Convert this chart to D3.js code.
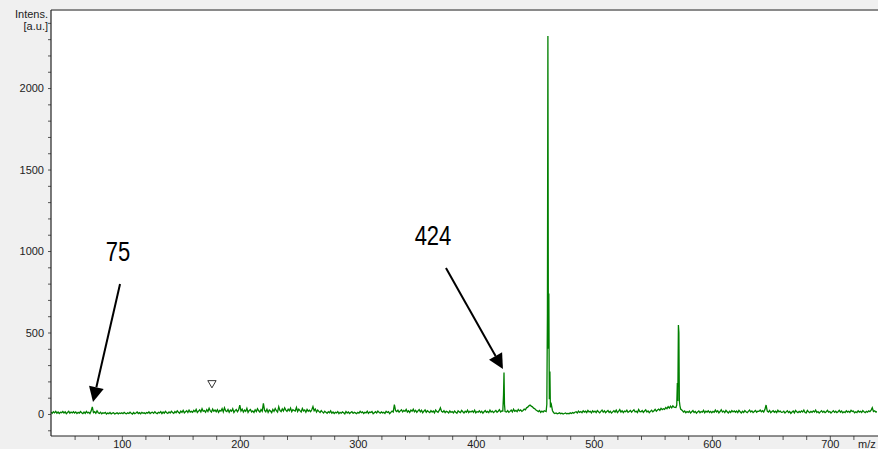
<!DOCTYPE html>
<html><head><meta charset="utf-8">
<script src="https://cdn.jsdelivr.net/npm/d3@7"></script>
<style>html,body{margin:0;padding:0;background:#f0f0f0;} svg{display:block;}</style>
</head><body><svg id="c" width="878" height="449"></svg>
<script>
// ---- data ----
const noiseStartMz = 40, noiseStepMz = 1;
const noiseIntens = [
 10,4,14,7,16,5,12,3,11,8,15,6,13,2,9,17,5,12,7,14,
 6,13,3,10,5,15,8,2,12,4,16,7,11,3,18,44,9,14,5,20,
 8,3,11,1,7,4,10,0,6,2,9,1,5,8,0,4,7,1,6,3,
 8,2,10,4,1,7,3,11,5,0,9,2,6,12,3,8,1,10,4,7,
 2,9,5,13,3,8,11,4,14,6,2,10,7,15,3,12,5,16,8,4,
 13,6,17,9,4,15,8,19,11,5,18,10,22,7,14,20,9,24,12,16,
 10,22,14,28,9,18,25,12,32,16,21,11,27,15,35,19,12,30,17,24,
 14,26,10,22,18,33,13,38,20,15,28,11,24,17,32,9,21,27,14,25,
 55,18,30,12,24,16,35,10,22,28,13,19,9,26,15,32,20,12,27,17,
 65,22,14,30,10,24,18,8,28,16,34,20,12,45,22,15,31,19,38,24,
 16,29,20,36,14,27,22,18,40,15,30,21,13,34,19,25,11,28,17,23,
 14,26,45,20,30,12,24,16,9,21,13,6,17,10,4,14,8,19,5,12,
 3,11,7,15,2,10,5,13,8,1,16,6,12,3,9,14,4,11,7,2,
 10,5,16,8,13,3,11,7,17,4,12,9,15,2,8,14,6,18,10,5,
 13,7,11,4,16,9,14,2,10,18,12,58,21,15,24,11,19,26,13,22,
 16,28,12,20,9,24,17,30,14,22,10,19,27,13,23,8,18,25,11,20,
 14,9,21,12,18,7,24,15,10,22,38,16,11,20,8,17,13,6,19,10,
 15,7,18,11,5,20,13,9,22,14,6,17,11,24,8,16,12,19,10,23,
 7,15,11,20,9,17,5,14,21,10,16,8,24,12,18,9,15,22,11,17,
 26,13,19,20,15,18,12,21,10,16,24,13,30,17,22,14,28,19,25,16,
 22,30,26,38,42,50,55,48,44,36,32,25,20,15,22,10,18,12,20,16,
 25,30,28,22,26,20,8,3,6,1,4,7,2,5,0,3,6,1,4,2,
 7,3,9,5,11,14,6,18,10,15,8,20,12,17,9,22,13,16,7,19,
 12,18,9,21,14,7,16,24,11,19,8,15,22,10,17,6,13,20,12,24,
 9,16,27,12,20,8,18,14,23,10,15,22,11,19,26,13,17,9,28,15,
 14,21,10,18,25,12,19,8,16,23,13,20,29,17,24,30,22,35,27,32,
 28,40,33,45,36,48,38,50,42,46,45,50,40,35,30,22,12,18,8,15,
 10,18,6,14,21,9,16,5,13,19,8,15,11,22,7,17,12,20,9,16,
 8,16,11,24,13,20,7,15,26,12,18,9,22,14,6,17,10,21,13,19,
 11,18,9,22,14,6,17,10,21,13,8,16,24,12,19,9,15,22,11,17,
 16,24,14,20,12,27,55,18,12,22,8,15,20,11,17,9,23,13,18,10,
 11,17,6,13,20,9,15,4,12,18,7,22,13,8,16,10,19,12,24,9,
 7,22,13,8,16,10,19,12,24,9,15,6,13,20,10,17,8,14,22,11,
 15,6,13,20,10,17,8,14,22,11,18,7,14,9,20,12,17,10,23,15,
 18,7,14,9,20,12,17,10,21,13,8,16,11,19,14,24,38,15,20,12,
 14
];
const peakMz = [
 422.9,423.5,423.9,424.3,424.8,
 459.6,460.2,460.7,461.1,461.5,461.9,462.3,462.8,463.2,463.7,
 569.6,570.3,570.8,571.2,571.7,572.1,572.5,573.0,573.6
];
const peakIntens = [
 18,120,255,60,15,
 15,60,620,2320,400,740,90,260,40,70,
 40,55,190,80,546,500,80,50,30
];
const yTickValues = [-100,0,100,200,300,400,500,600,700,800,900,1000,1100,1200,1300,1400,1500,1600,1700,1800,1900,2000,2100,2200,2300,2400];
const yTickLabels = [0,500,1000,1500,2000];
const xTickValues = [60,80,100,120,140,160,180,200,220,240,260,280,300,320,340,360,380,400,420,440,460,480,500,520,540,560,580,600,620,640,660,680,700,720];
const xTickLabels = [100,200,300,400,500,600,700];
const annotLabels = ["75","424"];
const annotTextPos = [[96.8,994],[363.7,1092]];
const annotArrowFrom = [[98.5,798],[374.7,896]];
const annotArrowTo = [[75.6,74],[423.0,276]];
const markerPos = [176.4,190];

// ---- build spectrum ----
let pts = noiseIntens.map((v,i)=>[noiseStartMz + i*noiseStepMz, v]);
pts = pts.filter(p => !peakMz.some(m => Math.abs(m - p[0]) < 0.65));
peakMz.forEach((m,i)=>pts.push([m, peakIntens[i]]));
pts.sort((a,b)=>a[0]-b[0]);

// ---- chart ----
const svg = d3.select("#c");
const L = 51, R = 877, T = 10, B = 436;
const x = d3.scaleLinear().domain([40,740]).range([L,R]);
const y = d3.scaleLinear().domain([-135,2479]).range([B,T]);
const f = "Arial, 'Liberation Sans', sans-serif";

svg.append("rect").attr("x",L).attr("y",T).attr("width",878-L).attr("height",B-T).attr("fill","#fff");
svg.append("defs").append("clipPath").attr("id","clip")
  .append("rect").attr("x",L).attr("y",T).attr("width",R-L).attr("height",B-T);

svg.append("path").datum(pts)
  .attr("clip-path","url(#clip)")
  .attr("fill","none").attr("stroke","#008000").attr("stroke-width",1.3)
  .attr("stroke-linejoin","miter")
  .attr("d", d3.line().x(d=>x(d[0])).y(d=>y(d[1])));

// top border
svg.append("line").attr("x1",L).attr("x2",878).attr("y1",T).attr("y2",T)
  .attr("stroke","#8a8a8a").attr("stroke-width",2);

// y axis
const yAxis = d3.axisLeft(y).tickValues(yTickValues).tickSize(3).tickSizeOuter(0)
  .tickFormat(d => yTickLabels.includes(d) ? d : "");
const gy = svg.append("g").attr("transform",`translate(${L},0)`).attr("color","#333").call(yAxis);
gy.select(".domain").remove();
gy.selectAll("text").attr("font-family",f).attr("font-size",11).attr("fill","#222").attr("dx",-1);
gy.selectAll("line").attr("stroke","#555");
svg.append("line").attr("x1",L).attr("x2",L).attr("y1",T).attr("y2",B).attr("stroke","#222").attr("stroke-width",1.2);

// x axis
const xAxis = d3.axisBottom(x).tickValues(xTickValues).tickSize(4).tickSizeOuter(0)
  .tickFormat(d => xTickLabels.includes(d) ? d : "");
const gx = svg.append("g").attr("transform",`translate(0,${B})`).attr("color","#333").call(xAxis);
gx.select(".domain").remove();
gx.selectAll("text").attr("font-family",f).attr("font-size",11).attr("fill","#222").attr("dy",null).attr("y",12);
gx.selectAll("line").attr("stroke","#555");
svg.append("line").attr("x1",L).attr("x2",878).attr("y1",B).attr("y2",B).attr("stroke","#222").attr("stroke-width",1.2);

// axis titles
svg.append("text").attr("x",48).attr("y",18).attr("text-anchor","end").attr("font-family",f).attr("font-size",11).attr("fill","#222").text("Intens.");
svg.append("text").attr("x",48).attr("y",30).attr("text-anchor","end").attr("font-family",f).attr("font-size",11).attr("fill","#222").text("[a.u.]");
svg.append("text").attr("x",858).attr("y",448).attr("font-family",f).attr("font-size",11).attr("fill","#222").text("m/z");

// annotations
annotLabels.forEach((lab,i)=>{
  const tx = x(annotTextPos[i][0]), ty = y(annotTextPos[i][1]);
  svg.append("text").attr("transform",`translate(${tx},${ty}) scale(1,1.22)`)
    .attr("text-anchor","middle").attr("dominant-baseline","central")
    .attr("font-family",f).attr("font-size",22).attr("fill","#000").text(lab);
  const x1 = x(annotArrowFrom[i][0]), y1 = y(annotArrowFrom[i][1]);
  const x2 = x(annotArrowTo[i][0]), y2 = y(annotArrowTo[i][1]);
  const ang = Math.atan2(y2-y1, x2-x1);
  const hl = 15, hw = 7.5;
  const bx = x2 - hl*Math.cos(ang), by = y2 - hl*Math.sin(ang);
  svg.append("line").attr("x1",x1).attr("y1",y1).attr("x2",bx).attr("y2",by)
    .attr("stroke","#000").attr("stroke-width",2);
  const px = -Math.sin(ang), py = Math.cos(ang);
  svg.append("path").attr("fill","#000")
    .attr("d",`M${x2},${y2}L${bx+px*hw},${by+py*hw}L${bx-px*hw},${by-py*hw}Z`);
});

// marker
svg.append("path").attr("d", d3.symbol(d3.symbolTriangle, 30)())
  .attr("transform",`translate(${x(markerPos[0])},${y(markerPos[1])}) rotate(180)`)
  .attr("fill","#fff").attr("stroke","#000").attr("stroke-width",0.8);
</script></body></html>
